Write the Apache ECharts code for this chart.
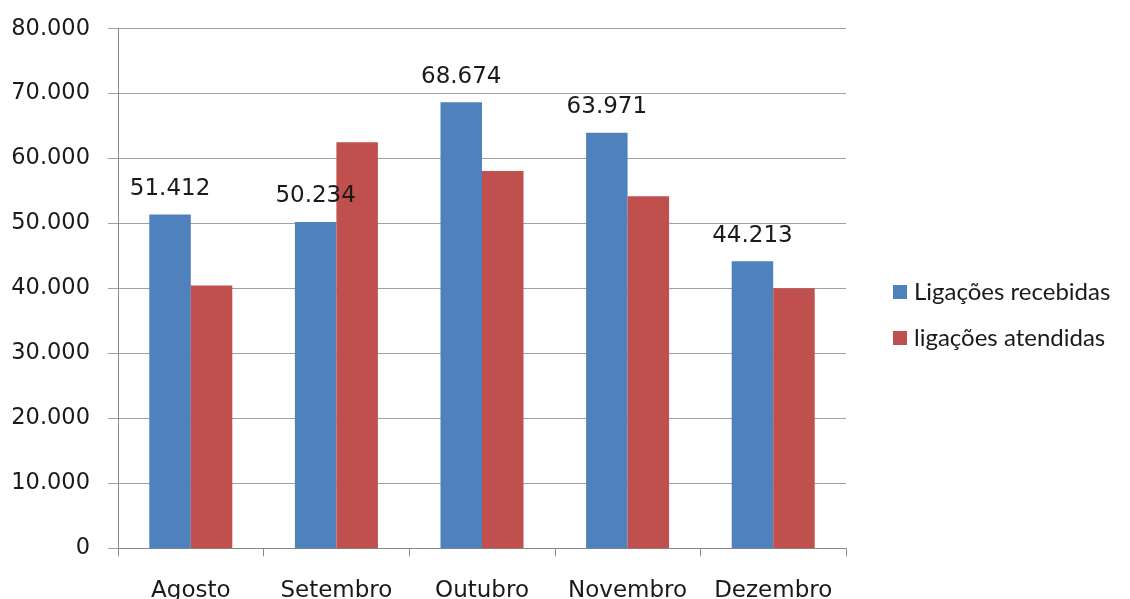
<!DOCTYPE html>
<html>
<head>
<meta charset="utf-8">
<script src="https://cdn.jsdelivr.net/npm/echarts@6/dist/echarts.min.js"></script>
<style>
html,body{margin:0;padding:0;background:#fff;}
#chart{width:1130px;height:599px;}
</style>
</head>
<body>
<div id="chart"></div>
<script>
const categories = ['Agosto', 'Setembro', 'Outubro', 'Novembro', 'Dezembro'];
const recebidas = [51412, 50234, 68674, 63971, 44213];
const atendidas = [40450, 62500, 58100, 54200, 40050];
const seriesNames = ['Ligações recebidas', 'ligações atendidas'];
const yTicks = [0, 10000, 20000, 30000, 40000, 50000, 60000, 70000, 80000];

function fmt(v) {
  return v === 0 ? '0' : (v / 1000).toFixed(3);
}

const chart = echarts.init(document.getElementById('chart'));
chart.setOption({
  animation: false,
  backgroundColor: '#ffffff',
  grid: { left: 118, right: 284, top: 28.7, bottom: 50.7, containLabel: false, outerBoundsMode: 'none' },
  legend: {
    orient: 'vertical',
    left: 888,
    top: 275,
    itemWidth: 14,
    itemHeight: 14,
    itemGap: 22,
    icon: 'rect',
    textStyle: { fontFamily: 'Lato', fontSize: 24, color: '#1a1a1a', padding: [0, 0, 0, 2] },
    data: seriesNames
  },
  xAxis: {
    type: 'category',
    data: categories,
    boundaryGap: true,
    axisLine: { lineStyle: { color: '#888888', width: 1 } },
    axisTick: { show: true, length: 8, interval: 0, lineStyle: { color: '#888888' } },
    axisLabel: { interval: 0, hideOverlap: false, fontFamily: 'DejaVu Sans', fontSize: 23, color: '#1a1a1a', margin: 31 }
  },
  yAxis: {
    type: 'value',
    min: yTicks[0],
    max: yTicks[yTicks.length - 1],
    interval: 10000,
    axisLine: { show: true, lineStyle: { color: '#888888', width: 1 } },
    axisTick: { show: true, length: 10, lineStyle: { color: '#a0a0a0' } },
    splitLine: { show: true, lineStyle: { color: '#a0a0a0', width: 1 } },
    axisLabel: {
      fontFamily: 'DejaVu Sans', fontSize: 22.5, color: '#1a1a1a', margin: 28,
      formatter: fmt
    }
  },
  series: [
    {
      name: seriesNames[0],
      type: 'bar',
      data: recebidas,
      barWidth: 41.5,
      barGap: '0%',
      itemStyle: { color: '#4F81BD' },
      label: {
        show: true,
        position: 'top',
        distance: 14,
        fontFamily: 'DejaVu Sans',
        fontSize: 23,
        color: '#1a1a1a',
        formatter: p => fmt(p.value)
      }
    },
    {
      name: seriesNames[1],
      type: 'bar',
      data: atendidas,
      barWidth: 41.5,
      barGap: '0%',
      itemStyle: { color: '#C0504D' }
    }
  ]
});
</script>
</body>
</html>
